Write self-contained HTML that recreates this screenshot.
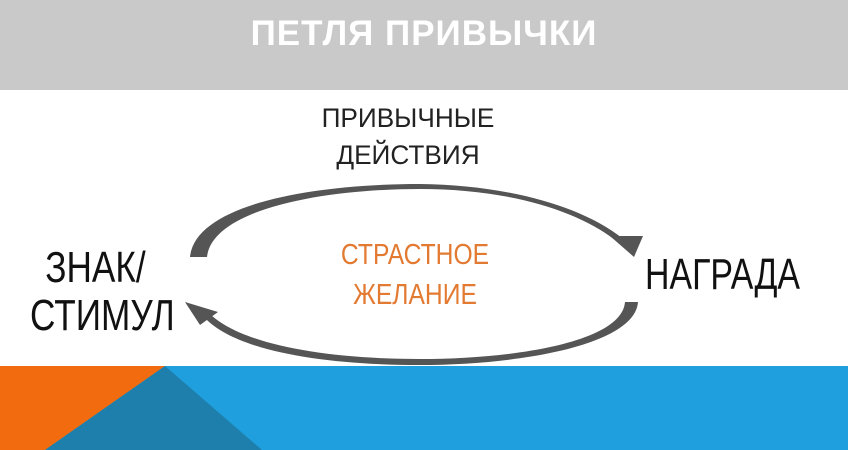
<!DOCTYPE html>
<html><head><meta charset="utf-8"><style>
body{margin:0;width:848px;height:450px;overflow:hidden;background:#fff;position:relative;font-family:"Liberation Sans","Noto Sans CJK SC",sans-serif;}
.hdr{position:absolute;left:0;top:0;width:848px;height:90px;background:#c9c9c9;}
.t{position:absolute;white-space:nowrap;}
</style></head><body>
<div class="hdr"></div>
<div class="t" style="left:0;width:848px;top:14px;text-align:center;color:#fff;font-weight:bold;font-size:35px;letter-spacing:1px;">ПЕТЛЯ ПРИВЫЧКИ</div>
<div class="t" style="left:258px;width:300px;top:100px;text-align:center;color:#222;font-size:27px;line-height:37px;transform:scaleX(0.97);">ПРИВЫЧНЫЕ<br>ДЕЙСТВИЯ</div>
<div class="t" style="left:265px;width:300px;top:235px;text-align:center;color:#e37a32;font-size:29px;line-height:40px;transform:scaleX(0.85);">СТРАСТНОЕ<br>ЖЕЛАНИЕ</div>
<div class="t" style="left:30px;top:244px;color:#111;font-size:44px;line-height:48px;transform:scaleX(0.8);transform-origin:0 0;"><span style="margin-left:19px">ЗНАК/</span><br>СТИМУЛ</div>
<div class="t" style="left:645px;top:250px;color:#111;font-size:44px;transform:scaleX(0.77);transform-origin:0 0;">НАГРАДА</div>
<svg width="848" height="450" style="position:absolute;left:0;top:0">
<polygon points="0,366 848,366 848,450 0,450" fill="#1f9fdd"/>
<polygon points="0,366 165,366 45,450 0,450" fill="#f26b0f"/>
<polygon points="165,366 45,450 262,450" fill="#1e7fac"/>
<path d="M190,257 C195,205 310,184 420,184 C505,185 580,205 622,238 L615,240 C575,209 505,189 420,189 C320,189 212,210 207,257 Z" fill="#555"/>
<polygon points="610,236 643,236 634,257" fill="#555"/>
<path d="M638,302 C635,345 520,365 420,365 C320,365 235,350 205,318 L210,314 C240,343 320,359 420,359 C515,359 622,342 625,302 Z" fill="#555"/>
<polygon points="185,302 218,312 200,325" fill="#555"/>
</svg>
</body></html>
